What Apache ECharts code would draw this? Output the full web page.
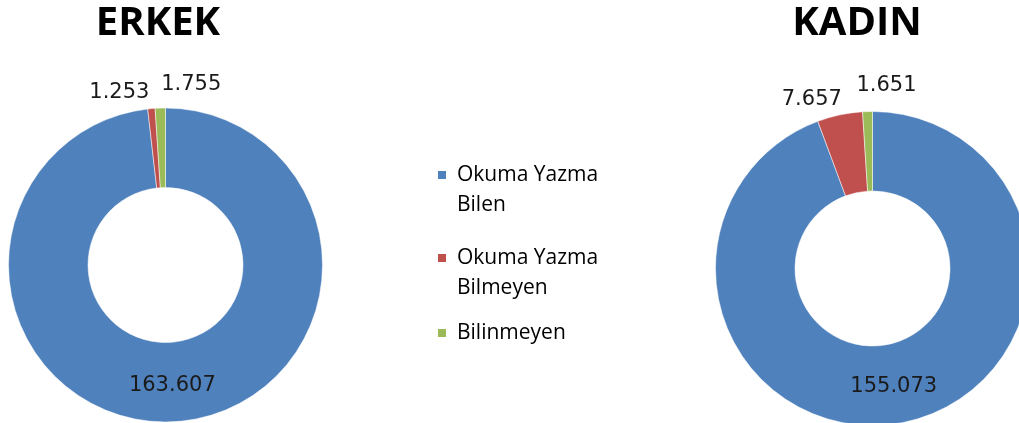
<!DOCTYPE html>
<html>
<head>
<meta charset="utf-8">
<script src="https://cdn.jsdelivr.net/npm/echarts@6/dist/echarts.min.js"></script>
<style>
  html, body { margin: 0; padding: 0; background: #fff; }
  #chart { width: 1019px; height: 423px; }
</style>
</head>
<body>
<div id="chart"></div>
<script>
// Okuma yazma durumu, cinsiyete gore
const categories = ['Okuma Yazma Bilen', 'Okuma Yazma Bilmeyen', 'Bilinmeyen']
const erkekValues = [163607, 1253, 1755]
const kadinValues = [155073, 7657, 1651]
const chartTitles = ['ERKEK', 'KADIN']

const colors = ['#4F81BD', '#C0504D', '#9BBB59']
const valueFont = 'DejaVu Sans'

const fmt = (v) => String(v).replace(/\B(?=(\d{3})+(?!\d))/g, '.')

// small slices get their labels pushed out above the ring (like Excel's outside end)
const smallLabelOffsets = [
    [null, [3, -16], [66, -24]],
    [null, [7, -15], [54, -26]]
]

const buildData = (values, chartIdx) => values.map((v, i) => {
    const item = { name: categories[i], value: v }
    if (i > 0) {
        item.label = { position: 'outside', offset: smallLabelOffsets[chartIdx][i] }
    }
    return item
})

const pieSeries = (values, center, chartIdx) => ({
    type: 'pie',
    center: center,
    radius: [77.5, 157],
    startAngle: 90,
    clockwise: true,
    avoidLabelOverlap: false,
    animation: false,
    itemStyle: { borderColor: '#fff', borderWidth: 0.5 },
    label: {
        show: true,
        position: 'inside',
        formatter: (p) => fmt(p.value),
        fontFamily: valueFont,
        fontSize: 21,
        color: '#1a1a1a'
    },
    labelLine: { show: false, length: 0, length2: 0 },
    emphasis: { disabled: true },
    data: buildData(values, chartIdx)
})

// two-line legend names: an empty first line keeps the marker next to the first text line
const legendBase = {
    orient: 'vertical',
    left: 436,
    padding: 0,
    itemWidth: 10,
    itemHeight: 10,
    icon: 'rect',
    selectedMode: false,
    formatter: (name) => name.indexOf('Yazma ') >= 0 ? '\n' + name.replace('Yazma ', 'Yazma\n') : name,
    textStyle: {
        fontFamily: 'Open Sans',
        fontSize: 21,
        lineHeight: 30,
        color: '#000',
        padding: [0, 0, 0, 5]
    }
}

const chart = echarts.init(document.getElementById('chart'))

chart.setOption({
    color: colors,
    animation: false,
    graphic: [
        {
            type: 'text', x: 158, y: 4,
            style: { text: chartTitles[0], align: 'center', verticalAlign: 'top',
                font: 'bold 40px "Open Sans"', fill: '#000' }
        },
        {
            type: 'text', x: 857, y: 4,
            style: { text: chartTitles[1], align: 'center', verticalAlign: 'top',
                font: 'bold 40px "Open Sans"', fill: '#000' }
        }
    ],
    legend: [
        Object.assign({}, legendBase, { top: 130, data: [categories[0]] }),
        Object.assign({}, legendBase, { top: 213, data: [categories[1]] }),
        Object.assign({}, legendBase, { top: 318, data: [categories[2]] })
    ],
    series: [
        pieSeries(erkekValues, [165.5, 265], 0),
        pieSeries(kadinValues, [872.5, 268.5], 1)
    ]
})

window.addEventListener('resize', () => chart.resize())
</script>
</body>
</html>
